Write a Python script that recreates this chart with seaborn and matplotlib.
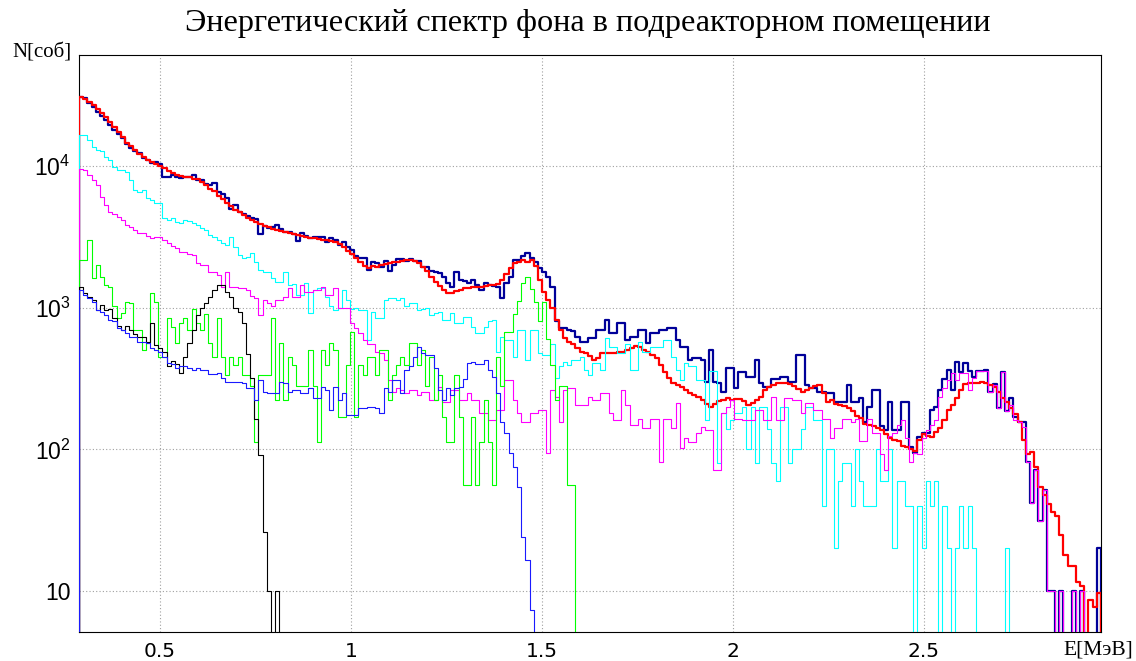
import numpy as np
import matplotlib
matplotlib.use("Agg")
import matplotlib.pyplot as plt
from matplotlib.ticker import FixedLocator, MultipleLocator, LogLocator, NullFormatter
import seaborn as sns

# ---------------- data (counts per bin) ----------------
E_MIN, E_MAX, N_BINS = 0.288, 2.9634, 245

total_meas = [  # dark blue
    30700, 30000, 28000, 26000, 24000, 22500, 21000, 19500, 18000, 16800,
    15800, 14300, 13300, 12800, 12300, 11300, 11000, 10500, 10600, 10300,
    8400, 8400, 8700, 8400, 8200, 8300, 8400, 8600, 8000, 8000,
    7500, 7300, 7600, 6500, 6300, 5900, 5000, 5300, 4700, 4600,
    4400, 4300, 4200, 3300, 3800, 3650, 3700, 3850, 3600, 3400,
    3400, 3300, 2950, 3350, 3200, 3100, 3150, 3150, 3150, 2900,
    3100, 3000, 2750, 2900, 2700, 2550, 2300, 2250, 2250, 1850,
    2100, 2050, 1950, 2150, 1800, 2000, 2200, 2200, 2150, 2200,
    2150, 2150, 1950, 1940, 1800, 1780, 1760, 1650, 1500, 1400,
    1790, 1570, 1550, 1500, 1570, 1450, 1330, 1500, 1450, 1420,
    1400, 1170, 1500, 1650, 2170, 2170, 2300, 2440, 2240, 2100,
    1910, 1780, 1650, 1400, 800, 720, 720, 697, 680, 620,
    575, 575, 610, 610, 697, 697, 820, 660, 660, 780,
    780, 593, 620, 620, 697, 697, 560, 660, 660, 697,
    697, 720, 720, 593, 530, 530, 428, 440, 440, 428,
    300, 504, 300, 295, 255, 375, 375, 270, 353, 353,
    325, 325, 428, 295, 275, 275, 315, 315, 325, 325,
    300, 300, 465, 465, 285, 272, 272, 255, 255, 250,
    250, 217, 217, 217, 285, 217, 217, 230, 155, 200,
    263, 263, 145, 138, 215, 138, 138, 217, 217, 104,
    94, 122, 130, 130, 190, 200, 263, 315, 364, 263,
    415, 350, 410, 355, 325, 355, 355, 364, 255, 290,
    195, 350, 185, 230, 170, 157, 155, 82, 42, 72,
    31, 52, 10, 10, 0, 10, 0, 0, 10, 0,
    10, 0, 0, 0, 20,
]

total_sim = [  # red
    30700, 29700, 28300, 26900, 25300, 23700, 22200, 20400, 18800, 17500,
    16000, 14500, 13800, 13000, 12150, 11550, 11000, 10700, 10330, 10000,
    9700, 9220, 8920, 8640, 8500, 8360, 8360, 8100, 8100, 7700,
    7340, 6880, 6670, 6150, 5850, 5480, 5220, 4890, 4740, 4510,
    4300, 4160, 4020, 3890, 3770, 3710, 3590, 3540, 3480, 3420,
    3370, 3310, 3260, 3210, 3160, 3110, 3110, 3060, 3010, 3010,
    2960, 2910, 2820, 2690, 2520, 2390, 2240, 2100, 1970, 1910,
    1970, 1940, 2000, 2030, 2070, 2100, 2100, 2140, 2170, 2170,
    2140, 2070, 1940, 1820, 1650, 1520, 1420, 1330, 1270, 1270,
    1310, 1330, 1380, 1380, 1400, 1400, 1400, 1420, 1440, 1440,
    1470, 1570, 1730, 1910, 2070, 2100, 2170, 2100, 2170, 1970,
    1570, 1290, 1135, 1000, 820, 697, 610, 570, 555, 520,
    490, 475, 455, 430, 440, 475, 480, 480, 480, 490,
    490, 504, 520, 540, 530, 504, 490, 465, 440, 395,
    352, 318, 296, 285, 275, 263, 250, 240, 235, 224,
    210, 200, 210, 220, 224, 230, 224, 227, 227, 220,
    205, 212, 224, 235, 263, 275, 285, 292, 296, 296,
    288, 278, 267, 255, 263, 270, 278, 285, 250, 217,
    224, 210, 205, 203, 197, 185, 172, 167, 150, 148,
    146, 141, 138, 128, 120, 117, 114, 106, 104, 100,
    98, 117, 128, 124, 122, 132, 141, 162, 190, 205,
    230, 263, 288, 292, 296, 296, 300, 296, 285, 275,
    255, 230, 217, 197, 178, 157, 117, 92, 96, 75,
    54, 48, 41, 36, 34, 25, 18, 15, 15, 11.5,
    10.8, 0, 8.6, 7.7, 9.7,
]

comp_cyan = [
    16600, 16600, 15300, 13600, 13000, 12700, 11550, 11000, 9850, 9370,
    9370, 9070, 7970, 6770, 6550, 6770, 5950, 5760, 5480, 5480,
    4290, 4160, 4290, 4020, 3960, 4160, 4090, 3960, 3830, 3650,
    3540, 3260, 3160, 3010, 2860, 2770, 3160, 2690, 2360, 2240,
    2280, 2430, 2100, 1850, 1790, 1790, 1620, 1520, 1520, 1790,
    1450, 1470, 1230, 1230, 1490, 920, 1330, 1380, 1380, 1190,
    1030, 965, 1000, 1330, 1135, 985, 1000, 965, 965, 593,
    935, 845, 845, 1135, 1170, 1170, 1135, 1170, 1030, 1070,
    1070, 965, 985, 1000, 890, 920, 935, 820, 820, 920,
    785, 785, 860, 860, 730, 665, 665, 730, 800, 820,
    490, 620, 593, 593, 450, 697, 697, 428, 697, 697,
    480, 465, 465, 555, 320, 385, 415, 395, 428, 428,
    450, 364, 335, 410, 410, 364, 610, 525, 525, 480,
    480, 555, 364, 364, 575, 490, 490, 525, 525, 525,
    593, 593, 450, 364, 310, 410, 385, 385, 310, 310,
    160, 360, 360, 80, 180, 140, 160, 180, 180, 200,
    100, 200, 80, 200, 200, 140, 80, 60, 200, 200,
    80, 100, 100, 140, 200, 200, 160, 160, 40, 100,
    100, 20, 60, 80, 80, 40, 100, 60, 40, 40,
    40, 100, 60, 60, 100, 20, 60, 60, 40, 40,
    0, 40, 20, 60, 40, 60, 0, 40, 20, 0,
    20, 40, 20, 40, 20, 0, 0, 0, 0, 0,
    0, 0, 20, 0, 0, 0, 0, 0, 0, 0,
    0, 0, 0, 0, 0, 0, 0, 0, 0, 0,
    0, 0, 0, 0, 0,
]

comp_magenta = [
    9520, 9370, 8640, 7970, 7340, 6050, 5310, 4740, 4580, 4370,
    4160, 3830, 3710, 3540, 3370, 3370, 3210, 3110, 3160, 3160,
    3010, 2860, 2720, 2630, 2470, 2470, 2390, 2360, 2070, 2000,
    2000, 1790, 1790, 1700, 1400, 1790, 1400, 1400, 1380, 1380,
    1330, 1200, 1170, 890, 1135, 1070, 1030, 1135, 1135, 1190,
    1380, 1190, 1190, 1450, 1290, 1290, 1330, 1330, 1400, 1230,
    1230, 1380, 1000, 1000, 1000, 785, 720, 665, 593, 550,
    550, 490, 480, 428, 310, 255, 270, 263, 250, 263,
    263, 240, 255, 255, 224, 224, 275, 217, 217, 263,
    263, 224, 224, 250, 224, 224, 180, 180, 162, 162,
    190, 190, 310, 310, 224, 180, 155, 155, 180, 180,
    190, 190, 94, 263, 235, 155, 263, 270, 270, 205,
    205, 205, 235, 224, 224, 250, 250, 180, 162, 162,
    263, 205, 148, 148, 165, 141, 141, 165, 165, 82,
    165, 165, 141, 212, 102, 121, 112, 112, 130, 143,
    138, 138, 72, 72, 180, 200, 224, 165, 165, 162,
    162, 162, 190, 190, 162, 162, 235, 162, 162, 230,
    230, 224, 224, 180, 212, 212, 190, 190, 165, 165,
    121, 141, 141, 165, 165, 155, 165, 115, 115, 165,
    130, 130, 92, 72, 125, 130, 148, 162, 121, 82,
    94, 92, 121, 138, 148, 162, 235, 270, 310, 345,
    310, 345, 345, 263, 320, 355, 355, 355, 255, 285,
    195, 350, 185, 205, 162, 157, 143, 82, 42, 72,
    31, 52, 10, 10, 0, 10, 0, 0, 10, 0,
    10, 0, 0, 0, 0,
]

comp_green = [
    2170, 2170, 3000, 1630, 2000, 1650, 1450, 1400, 1030, 850,
    920, 1100, 1070, 700, 700, 504, 560, 1270, 1100, 448,
    448, 840, 728, 560, 784, 840, 700, 985, 784, 700,
    896, 560, 448, 840, 448, 336, 448, 392, 448, 336,
    336, 280, 112, 336, 336, 336, 840, 224, 560, 224,
    448, 392, 280, 280, 280, 504, 280, 112, 504, 392,
    560, 504, 168, 168, 392, 672, 168, 392, 336, 448,
    448, 336, 504, 504, 224, 336, 392, 448, 392, 560,
    560, 392, 504, 280, 448, 224, 336, 168, 112, 112,
    336, 168, 56, 56, 168, 56, 112, 224, 112, 56,
    448, 280, 672, 672, 896, 1120, 1500, 1650, 1350, 1100,
    800, 1100, 600, 392, 224, 280, 280, 56, 56, 0,
] + [0] * 125

comp_black = [
    1400, 1270, 1190, 1135, 965, 1050, 965, 980, 840, 740,
    697, 740, 697, 650, 620, 620, 575, 780, 545, 520,
    490, 385, 420, 400, 345, 450, 560, 697, 890, 1000,
    1070, 1190, 1330, 1450, 1450, 1300, 1190, 1000, 935, 780,
    470, 320, 165, 91, 26, 10, 0, 10,
] + [0] * 197

comp_blue = [
    1330, 1230, 1170, 1100, 965, 935, 890, 820, 800, 720,
    690, 665, 620, 620, 575, 575, 560, 520, 504, 490,
    450, 410, 400, 375, 385, 385, 375, 364, 375, 364,
    364, 340, 340, 345, 320, 300, 300, 300, 300, 295,
    270, 270, 224, 310, 255, 250, 250, 250, 300, 295,
    255, 263, 263, 250, 250, 270, 230, 230, 275, 263,
    190, 275, 224, 250, 175, 175, 175, 195, 195, 200,
    200, 195, 180, 270, 255, 310, 310, 250, 364, 385,
    450, 530, 480, 465, 465, 375, 263, 224, 270, 243,
    270, 275, 315, 410, 415, 400, 400, 428, 364, 325,
    250, 155, 130, 94, 75, 54, 24, 16.5, 7.3,
] + [0] * 136

series = [
    (total_meas, "#000099", 1.6),
    (total_sim, "#ff0000", 1.6),
    (comp_cyan, "#00ffff", 0.8),
    (comp_magenta, "#ff00ff", 0.8),
    (comp_green, "#00ff00", 0.8),
    (comp_black, "#000000", 0.8),
    (comp_blue, "#1a1aff", 0.8),
]
for s, _, _ in series:
    assert len(s) == N_BINS, len(s)

edges = np.linspace(E_MIN, E_MAX, N_BINS + 1)
centers = 0.5 * (edges[:-1] + edges[1:])
edge_list = [float(e) for e in edges]

# ---------------- style ----------------
sns.set_style("white")
plt.rcParams["font.family"] = ["Liberation Sans", "DejaVu Sans"]
plt.rcParams["text.color"] = "black"
plt.rcParams["mathtext.fontset"] = "custom"
plt.rcParams["mathtext.rm"] = "Liberation Sans Narrow"
plt.rcParams["mathtext.it"] = "Liberation Sans Narrow:italic"
plt.rcParams["mathtext.default"] = "regular"

W, H = 1136, 661
fig = plt.figure(figsize=(W / 100, H / 100), dpi=100)
fig.patch.set_facecolor("white")
ax = fig.add_axes([79 / W, 1 - 632 / H, 1022 / W, 577 / H])

for z, (vals, col, lw) in enumerate(series):
    sns.histplot(x=centers, weights=np.asarray(vals, dtype=float), bins=edge_list,
                 element="step", fill=True, color=col, facecolor=(0, 0, 0, 0),
                 edgecolor=col, linewidth=lw, ax=ax, zorder=3 + z)

ax.set_yscale("log")
ax.set_xlim(E_MIN, E_MAX)
ax.set_ylim(5.14, 60700)
ax.set_xlabel("")
ax.set_ylabel("")

ax.xaxis.set_major_locator(FixedLocator([0.5, 1.0, 1.5, 2.0, 2.5]))
ax.set_xticklabels(["0.5", "1", "1.5", "2", "2.5"])
ax.xaxis.set_minor_locator(MultipleLocator(0.1))
ax.yaxis.set_major_locator(FixedLocator([10, 100, 1000, 10000]))
ax.set_yticklabels(["10", "$10^{2}$", "$10^{3}$", "$10^{4}$"])
ax.yaxis.set_minor_locator(LogLocator(base=10, subs=np.arange(2, 10)))
ax.yaxis.set_minor_formatter(NullFormatter())

ax.tick_params(axis="both", which="both", direction="in", colors="black",
               width=0.8, top=False, right=False)
ax.tick_params(axis="x", which="major", length=12.5, pad=7)
ax.tick_params(axis="x", which="minor", length=6)
ax.tick_params(axis="y", which="major", length=22, pad=6)
ax.tick_params(axis="y", which="minor", length=10)
for lab in ax.get_xticklabels():
    lab.set_fontfamily(["DejaVu Sans"])
    lab.set_fontsize(14.5)
for lab in ax.get_yticklabels():
    lab.set_fontfamily(["Liberation Sans Narrow", "Liberation Sans"])
    lab.set_fontsize(16.5)

ax.grid(True, which="major", linestyle=(0, (1, 2)), color="#a0a0a0", linewidth=0.8)
ax.set_axisbelow(True)
for sp in ax.spines.values():
    sp.set_color("black")
    sp.set_linewidth(0.8)

serif = ["Liberation Serif", "DejaVu Serif"]
fig.text(588 / W, 1 - 23 / H, "Энергетический спектр фона в подреакторном помещении",
         ha="center", va="center", fontsize=23.2, family=serif, color="black")
fig.text(12 / W, 1 - 53 / H, "N[соб]", ha="left", va="center", fontsize=15,
         family=serif, color="black")
fig.text(1133 / W, 1 - 650 / H, "E[МэВ]", ha="right", va="center", fontsize=15.5,
         family=serif, color="black")

fig.savefig("out.png", dpi=100, facecolor="white")
